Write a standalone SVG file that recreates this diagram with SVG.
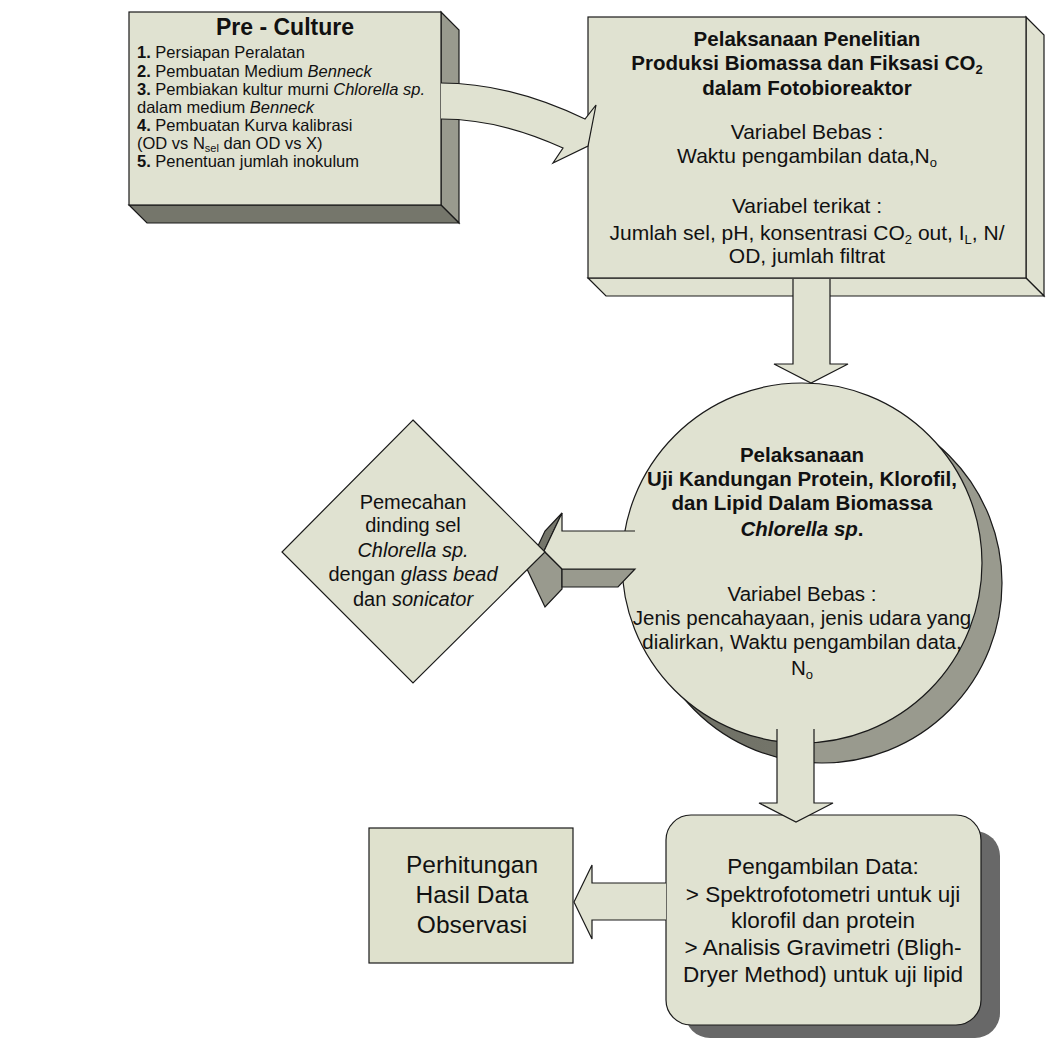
<svg xmlns="http://www.w3.org/2000/svg" width="1062" height="1041" viewBox="0 0 1062 1041">
<defs>
<style>
.face{fill:#e0e2d1;stroke:#1a1a1a;stroke-width:1.2;stroke-linejoin:miter}
.side{fill:#999a8e;stroke:#1a1a1a;stroke-width:1.2}
.dark{fill:#75766b;stroke:#1a1a1a;stroke-width:1.2}
.nostroke{stroke:none}
text{font-family:"Liberation Sans",Arial,sans-serif;fill:#111}
.b{font-weight:bold}
.i{font-style:italic}
.c{text-anchor:middle}
</style>
<linearGradient id="cyl" gradientUnits="userSpaceOnUse" x1="680" y1="0" x2="1005" y2="0">
<stop offset="0" stop-color="#6f7065"/>
<stop offset="0.36" stop-color="#74756a"/>
<stop offset="0.42" stop-color="#999a8e"/>
<stop offset="1" stop-color="#999a8e"/>
</linearGradient>
</defs>
<rect width="1062" height="1041" fill="#ffffff"/>

<g id="node-preculture">
<polygon class="side" points="441,12 459,30 459,223 441,205"/>
<polygon class="dark" points="129,205 441,205 459,223 147,223"/>
<rect class="face" x="129" y="12" width="312" height="193"/>
<text class="b c" x="285" y="35" font-size="23">Pre - Culture</text>
<g font-size="16.5">
<text x="137" y="58"><tspan class="b">1.</tspan> Persiapan Peralatan</text>
<text x="137" y="76.5"><tspan class="b">2.</tspan> Pembuatan Medium <tspan class="i">Benneck</tspan></text>
<text x="137" y="94.5"><tspan class="b">3.</tspan> Pembiakan kultur murni <tspan class="i">Chlorella sp.</tspan></text>
<text x="137" y="112.5">dalam medium <tspan class="i">Benneck</tspan></text>
<text x="137" y="130.5"><tspan class="b">4.</tspan> Pembuatan Kurva kalibrasi</text>
<text x="137" y="148.5">(OD vs N<tspan font-size="11" dy="3">sel</tspan><tspan dy="-3"> dan OD vs X)</tspan></text>
<text x="137" y="166.5"><tspan class="b">5.</tspan> Penentuan jumlah inokulum</text>
</g>
</g>

<g id="node-penelitian">
<polygon class="face" points="1026,17 1044,35 1044,296 1026,278"/>
<polygon class="face" points="588,278 1026,278 1044,296 606,296"/>
<rect class="face" x="588" y="17" width="438" height="261"/>
<g class="b c" font-size="20.5">
<text x="807" y="46">Pelaksanaan Penelitian</text>
<text x="807" y="70">Produksi Biomassa dan Fiksasi CO<tspan font-size="13" dy="4">2</tspan></text>
<text x="807" y="95">dalam Fotobioreaktor</text>
</g>
<g class="c" font-size="21">
<text x="807" y="139">Variabel Bebas :</text>
<text x="807" y="163">Waktu pengambilan data,N<tspan font-size="13" dy="4">o</tspan></text>
<text x="807" y="213">Variabel terikat :</text>
<text x="807" y="240">Jumlah sel, pH, konsentrasi CO<tspan font-size="13" dy="4">2</tspan><tspan dy="-4"> out, I</tspan><tspan font-size="13" dy="4">L</tspan><tspan dy="-4">, N/</tspan></text>
<text x="807" y="263">OD, jumlah filtrat</text>
</g>
</g>

<g id="node-uji">
<polygon points="929.3,435.7 949.3,455.7 694.7,710.3 674.7,690.3" fill="url(#cyl)"/>
<circle cx="822" cy="583" r="180" fill="url(#cyl)" stroke="#1a1a1a" stroke-width="1.2"/>
<circle class="face" cx="802" cy="563" r="180"/>
<g class="b c" font-size="20.5">
<text x="802" y="462">Pelaksanaan</text>
<text x="802" y="486">Uji Kandungan Protein, Klorofil,</text>
<text x="802" y="510">dan Lipid Dalam Biomassa</text>
<text x="802" y="536"><tspan class="i">Chlorella sp</tspan>.</text>
</g>
<g class="c" font-size="20.5">
<text x="802" y="601">Variabel Bebas :</text>
<text x="802" y="625">Jenis pencahayaan, jenis udara yang</text>
<text x="802" y="649">dialirkan, Waktu pengambilan data,</text>
<text x="802" y="675">N<tspan font-size="13" dy="4">o</tspan></text>
</g>
</g>

<g id="node-pengambilan">
<rect x="685" y="831" width="315" height="207" rx="25" fill="#686868"/>
<rect class="face" x="666" y="815" width="315" height="210" rx="25"/>
<g class="c" font-size="22.5">
<text x="823" y="874">Pengambilan Data:</text>
<text x="823" y="902">&gt; Spektrofotometri untuk uji</text>
<text x="823" y="928">klorofil dan protein</text>
<text x="823" y="955">&gt; Analisis Gravimetri (Bligh-</text>
<text x="823" y="982">Dryer Method) untuk uji lipid</text>
</g>
</g>

<g id="node-perhitungan">
<rect x="369" y="828" width="204" height="135" fill="#dfe1cd" stroke="#1a1a1a" stroke-width="1.2"/>
<g class="c" font-size="24.5">
<text x="472" y="873">Perhitungan</text>
<text x="472" y="903">Hasil Data</text>
<text x="472" y="933">Observasi</text>
</g>
</g>

<g id="connectors">
<path class="face" d="M441,83 Q510,83 585,119 L596,105 L588,146 L553,163 L563,148 Q500,119 441,119"/>
<path class="face" d="M793,279 L793,364 L774,364 L811,383 L848,364 L830,364 L830,279"/>
<polygon class="dark" points="562,513 544,551 527,569 545,531"/>
<polygon class="side" points="544,551 562,569 562,589 545,607 527,569"/>
<polygon class="side" points="562,569 635,569 618,587 562,587"/>
<path class="face" d="M635,531 L562,531 L562,513 L544,551 L562,569 L635,569"/>
<path class="face" d="M777,729 L777,803 L759,803 L796,822 L833,803 L814,803 L814,729"/>
<path class="face" d="M666,883 L592,883 L592,865 L574,902 L592,939 L592,920 L666,920"/>
</g>

<g id="node-pemecahan">
<polygon class="face" points="413,420 545,552 413,683 282,552"/>
<g class="c" font-size="20">
<text x="413" y="509">Pemecahan</text>
<text x="413" y="532">dinding sel</text>
<text x="413" y="557" class="i">Chlorella sp.</text>
<text x="413" y="581">dengan <tspan class="i">glass bead</tspan></text>
<text x="413" y="606">dan <tspan class="i">sonicator</tspan></text>
</g>
</g>
</svg>
